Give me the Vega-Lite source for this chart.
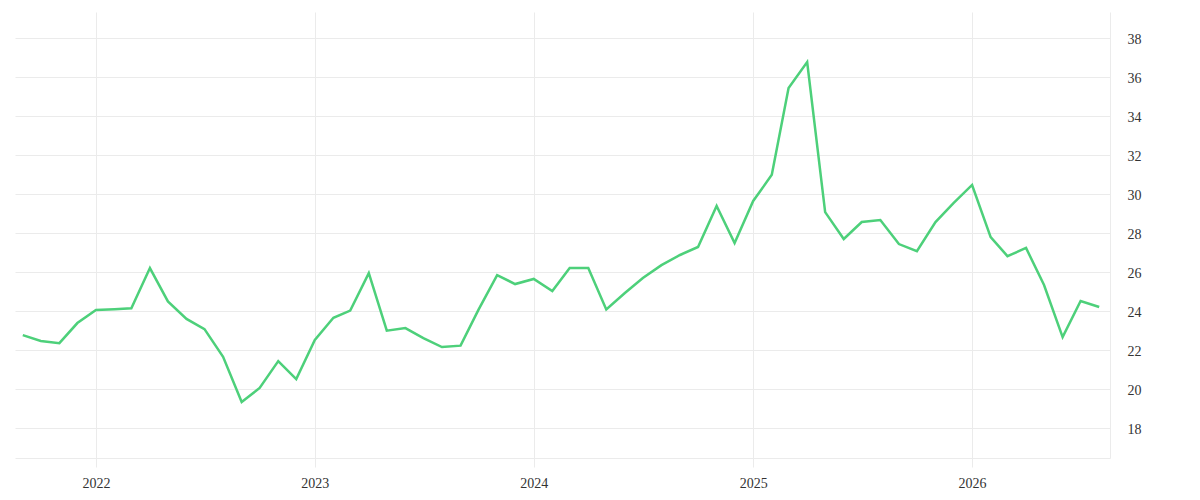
{
  "$schema": "https://vega.github.io/schema/vega-lite/v6.json",
  "width": 1095,
  "height": 446,
  "autosize": {"type": "none"},
  "padding": {"left": 15, "top": 12, "right": 90, "bottom": 42},
  "background": "white",
  "config": {"view": {"stroke": null}},
  "data": {
    "values": [
      {"date": "2021-09-01", "value": 22.74},
      {"date": "2021-10-01", "value": 22.44},
      {"date": "2021-11-01", "value": 22.33},
      {"date": "2021-12-01", "value": 23.36},
      {"date": "2022-01-01", "value": 24.03},
      {"date": "2022-02-01", "value": 24.07},
      {"date": "2022-03-01", "value": 24.12},
      {"date": "2022-04-01", "value": 26.18},
      {"date": "2022-05-01", "value": 24.47},
      {"date": "2022-06-01", "value": 23.57},
      {"date": "2022-07-01", "value": 23.05},
      {"date": "2022-08-01", "value": 21.63},
      {"date": "2022-09-01", "value": 19.31},
      {"date": "2022-10-01", "value": 20.03},
      {"date": "2022-11-01", "value": 21.41},
      {"date": "2022-12-01", "value": 20.49},
      {"date": "2023-01-01", "value": 22.49},
      {"date": "2023-02-01", "value": 23.63},
      {"date": "2023-03-01", "value": 24.0},
      {"date": "2023-04-01", "value": 25.92},
      {"date": "2023-05-01", "value": 22.97},
      {"date": "2023-06-01", "value": 23.1},
      {"date": "2023-07-01", "value": 22.59},
      {"date": "2023-08-01", "value": 22.13},
      {"date": "2023-09-01", "value": 22.2},
      {"date": "2023-10-01", "value": 24.05},
      {"date": "2023-11-01", "value": 25.82},
      {"date": "2023-12-01", "value": 25.36},
      {"date": "2024-01-01", "value": 25.62},
      {"date": "2024-02-01", "value": 25.0},
      {"date": "2024-03-01", "value": 26.18},
      {"date": "2024-04-01", "value": 26.18},
      {"date": "2024-05-01", "value": 24.06},
      {"date": "2024-06-01", "value": 24.9},
      {"date": "2024-07-01", "value": 25.67},
      {"date": "2024-08-01", "value": 26.33},
      {"date": "2024-09-01", "value": 26.85},
      {"date": "2024-10-01", "value": 27.26},
      {"date": "2024-11-01", "value": 29.36},
      {"date": "2024-12-01", "value": 27.46},
      {"date": "2025-01-01", "value": 29.62},
      {"date": "2025-02-01", "value": 30.96},
      {"date": "2025-03-01", "value": 35.41},
      {"date": "2025-04-01", "value": 36.74},
      {"date": "2025-05-01", "value": 29.05},
      {"date": "2025-06-01", "value": 27.67},
      {"date": "2025-07-01", "value": 28.54},
      {"date": "2025-08-01", "value": 28.64},
      {"date": "2025-09-01", "value": 27.41},
      {"date": "2025-10-01", "value": 27.05},
      {"date": "2025-11-01", "value": 28.54},
      {"date": "2025-12-01", "value": 29.51},
      {"date": "2026-01-01", "value": 30.44},
      {"date": "2026-02-01", "value": 27.77},
      {"date": "2026-03-01", "value": 26.79},
      {"date": "2026-04-01", "value": 27.21},
      {"date": "2026-05-01", "value": 25.31},
      {"date": "2026-06-01", "value": 22.64},
      {"date": "2026-07-01", "value": 24.49},
      {"date": "2026-08-01", "value": 24.18}
    ]
  },
  "mark": {"type": "line", "color": "#4dd07a", "strokeWidth": 2.5, "strokeJoin": "miter"},
  "encoding": {
    "x": {
      "field": "date",
      "type": "temporal",
      "title": null,
      "scale": {"domain": ["2021-08-19", "2026-08-19"]},
      "axis": {
        "orient": "bottom",
        "values": ["2022-01-01", "2023-01-01", "2024-01-01", "2025-01-01", "2026-01-01"],
        "format": "%Y",
        "grid": true,
        "gridColor": "#ebebeb",
        "gridWidth": 1,
        "domain": true,
        "domainColor": "#ebebeb",
        "domainWidth": 1,
        "ticks": true,
        "tickColor": "#ebebeb",
        "tickSize": 9,
        "labelPadding": 9,
        "labelFont": "Liberation Serif",
        "labelFontSize": 14,
        "labelColor": "#333333"
      }
    },
    "y": {
      "field": "value",
      "type": "quantitative",
      "title": null,
      "scale": {"domain": [16.44, 39.31], "nice": false, "zero": false},
      "axis": {
        "orient": "right",
        "values": [18, 20, 22, 24, 26, 28, 30, 32, 34, 36, 38],
        "grid": true,
        "gridColor": "#ebebeb",
        "gridWidth": 1,
        "domain": true,
        "domainColor": "#ebebeb",
        "domainWidth": 1,
        "ticks": false,
        "labelPadding": 17,
        "labelOffset": 2,
        "labelFont": "Liberation Serif",
        "labelFontSize": 14,
        "labelColor": "#333333"
      }
    }
  }
}
